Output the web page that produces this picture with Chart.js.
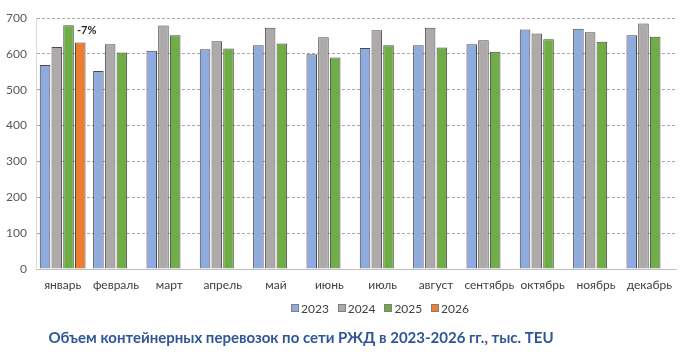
<!DOCTYPE html>
<html>
<head>
<meta charset="utf-8">
<script src="https://cdn.jsdelivr.net/npm/chart.js@4.4.1/dist/chart.umd.min.js"></script>
<style>
  html, body { margin: 0; padding: 0; background: #fff; }
  #wrap { position: relative; width: 690px; height: 352px; overflow: hidden; }
  #c { position: absolute; left: 0; top: 0; }
  #legend { position: absolute; left: 291px; top: 300px; height: 16px; display: flex; font-family: Lato, "Noto Sans", sans-serif; font-size: 12px; color: #404040; }
  .li { width: 46.7px; display: flex; align-items: center; white-space: nowrap; }
  .sw { width: 6px; height: 6px; border: 1px solid #7f7f7f; margin-right: 2px; flex: none; }
  #title { position: absolute; left: 0; width: 602px; text-align: center; top: 328px; font-family: Lato, "Noto Sans", sans-serif; font-weight: bold; font-size: 15px; color: #2F5597; white-space: nowrap; }
</style>
</head>
<body>
<div id="wrap">
  <canvas id="c" width="690" height="352"></canvas>
  <div id="legend"></div>
  <div id="title">Объем контейнерных перевозок по сети РЖД в 2023-2026 гг., тыс. TEU</div>
</div>
<script>
const months = ['январь','февраль','март','апрель','май','июнь','июль','август','сентябрь','октябрь','ноябрь','декабрь'];
const seriesNames = ['2023','2024','2025','2026'];
const v2023 = [569,552,609,613,624,599,616,624,627,668,670,652];
const v2024 = [619,627,679,635,673,646,666,673,638,657,660,685];
const v2025 = [680,604,652,615,629,590,624,618,606,641,634,648];
const v2026 = [632,null,null,null,null,null,null,null,null,null,null,null];
const yTicks = [0,100,200,300,400,500,600,700];
const annotationText = '-7%';
const colors = ['#8FAADC','#AEAAAA','#70AD47','#ED7D31'];

const allValues = [v2023, v2024, v2025, v2026];

const datasets = allValues.map((vals, i) => ({
  label: seriesNames[i],
  data: vals,
  backgroundColor: colors[i],
  borderColor: '#4a4a4a',
  borderWidth: 1,
  borderSkipped: 'bottom',
  categoryPercentage: 0.88,
  barPercentage: 0.9
}));

const annot = {
  id: 'annot',
  afterDatasetsDraw(chart) {
    const meta = chart.getDatasetMeta(3);
    const el = meta.data[0];
    if (!el) return;
    const ctx = chart.ctx;
    ctx.save();
    ctx.font = 'bold 11px Lato, "Noto Sans", sans-serif';
    ctx.fillStyle = '#262626';
    ctx.textAlign = 'center';
    ctx.textBaseline = 'middle';
    ctx.fillText(annotationText, el.x + 6.5, el.y - 12);
    ctx.restore();
  }
};

new Chart(document.getElementById('c'), {
  type: 'bar',
  data: { labels: months, datasets },
  options: {
    responsive: false,
    animation: false,
    devicePixelRatio: 1,
    layout: { padding: { left: 0, right: 14, top: 18, bottom: 53 } },
    plugins: { legend: { display: false }, tooltip: { enabled: false }, title: { display: false } },
    scales: {
      x: {
        grid: { display: false, drawTicks: false },
        border: { display: true, color: '#BFBFBF', width: 1 },
        ticks: { font: { family: 'Lato, "Noto Sans", sans-serif', size: 12 }, color: '#404040', padding: 9, maxRotation: 0, autoSkip: false },
        afterFit(s) { s.height = 30; }
      },
      y: {
        min: 0, max: 700,
        afterBuildTicks(s) { s.ticks = yTicks.map(v => ({ value: v })); },
        grid: { color: '#A6A6A6', lineWidth: 1, drawTicks: false },
        border: { display: true, color: '#D9D9D9', width: 1, dash: [3, 2] },
        ticks: { font: { family: 'Lato, "Noto Sans", sans-serif', size: 12 }, color: '#595959', padding: 9 },
        afterFit(s) { s.width = 36; }
      }
    }
  },
  plugins: [annot]
});

const lg = document.getElementById('legend');
seriesNames.forEach((n, i) => {
  const it = document.createElement('div'); it.className = 'li';
  const sw = document.createElement('span'); sw.className = 'sw'; sw.style.background = colors[i];
  const tx = document.createElement('span'); tx.textContent = n;
  it.appendChild(sw); it.appendChild(tx); lg.appendChild(it);
});
</script>
</body>
</html>
